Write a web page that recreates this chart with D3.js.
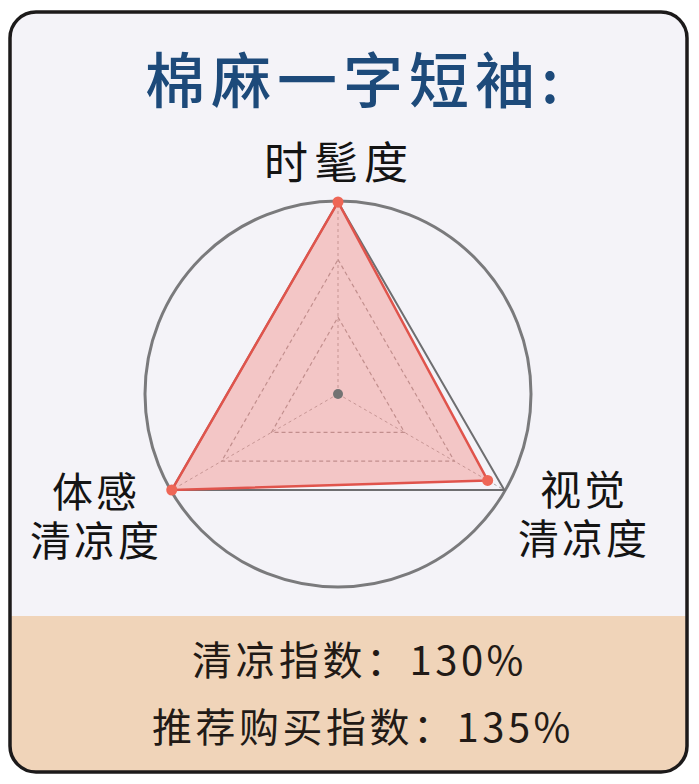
<!DOCTYPE html>
<html>
<head>
<meta charset="utf-8">
<script src="https://cdn.jsdelivr.net/npm/d3@7"></script>
<style>
  html, body { margin: 0; padding: 0; background: #ffffff; }
  svg { display: block; }
  text { font-family: "Noto Sans CJK SC", "Noto Sans", sans-serif; }
</style>
</head>
<body>
<svg id="chart" width="699" height="784"></svg>
<script>
// ---- data ----
const titleText = "棉麻一字短袖:";
const axisLabels = [["时髦度"], ["视觉", "清凉度"], ["体感", "清凉度"]];
const values = [1.0, 0.9, 1.0];
const gridLevels = [0.4, 0.7, 1.0];
const summaryLines = ["清凉指数：130%", "推荐购买指数：135%"];

// ---- layout ----
const svg = d3.select("#chart");
const cx = 338, cy = 394, R = 192;

// card
svg.append("rect")
  .attr("x", 10).attr("y", 12).attr("width", 677).attr("height", 760)
  .attr("rx", 26).attr("ry", 26)
  .attr("fill", "#f4f3f8");

const clip = svg.append("defs").append("clipPath").attr("id", "cardclip");
clip.append("rect")
  .attr("x", 10).attr("y", 12).attr("width", 677).attr("height", 760)
  .attr("rx", 26).attr("ry", 26);
svg.append("rect")
  .attr("clip-path", "url(#cardclip)")
  .attr("x", 10).attr("y", 616).attr("width", 677).attr("height", 160)
  .attr("fill", "#f0d4b9");

svg.append("rect")
  .attr("x", 10).attr("y", 12).attr("width", 677).attr("height", 760)
  .attr("rx", 26).attr("ry", 26)
  .attr("fill", "none").attr("stroke", "#1c1a1a").attr("stroke-width", 3.5);

// title
svg.append("text")
  .attr("x", 145).attr("y", 103)
  .attr("font-size", 60)
  .attr("font-weight", 500)
  .attr("letter-spacing", 6)
  .attr("fill", "#1d4a7a")
  .text(titleText);

// radar scales
const n = axisLabels.length;
const angle = d3.scaleLinear().domain([0, n]).range([0, 2 * Math.PI]);
const r = d3.scaleLinear().domain([0, 1]).range([0, R]);
const pt = (i, v) => [r(v) * Math.sin(angle(i)), -r(v) * Math.cos(angle(i))];

const g = svg.append("g").attr("transform", `translate(${cx},${cy})`);

g.append("circle").attr("r", R + 1)
  .attr("fill", "none").attr("stroke", "#7a7a7c").attr("stroke-width", 3);

const lineClosed = d3.line().curve(d3.curveLinearClosed);

d3.range(n).forEach(i => {
  g.append("line")
    .attr("x1", 0).attr("y1", 0)
    .attr("x2", pt(i, 1)[0]).attr("y2", pt(i, 1)[1])
    .attr("stroke", "#b0a8aa").attr("stroke-width", 1)
    .attr("stroke-dasharray", "3,3");
});

gridLevels.forEach(lv => {
  const outer = lv === 1.0;
  g.append("path")
    .attr("d", lineClosed(d3.range(n).map(i => pt(i, lv))))
    .attr("fill", "none")
    .attr("stroke", outer ? "#6e6e70" : "#a89c9e")
    .attr("stroke-width", outer ? 2 : 1.2)
    .attr("stroke-dasharray", outer ? null : "4,3");
});

const dataPts = values.map((v, i) => pt(i, v));
g.append("path")
  .attr("d", lineClosed(dataPts))
  .attr("fill", "rgba(242, 120, 110, 0.36)")
  .attr("stroke", "#e0544c").attr("stroke-width", 2.5)
  .attr("stroke-linejoin", "round");

g.selectAll("circle.pt").data(dataPts).enter().append("circle")
  .attr("class", "pt")
  .attr("cx", d => d[0]).attr("cy", d => d[1]).attr("r", 5.5)
  .attr("fill", "#ee6656");

g.append("circle").attr("r", 5).attr("fill", "#737373");

// axis labels (multi-line labels as tspans in one text)
const labelPos = [
  {fs: 44, ls: 6, lines: [{x: 264, y: 179}]},
  {fs: 41, ls: 3, lines: [{x: 540, y: 505}, {x: 518, y: 554}]},
  {fs: 41, ls: 3, lines: [{x: 52, y: 507}, {x: 30, y: 556}]}
];
axisLabels.forEach((lines, i) => {
  const p = labelPos[i];
  const t = svg.append("text")
    .attr("font-size", p.fs).attr("letter-spacing", p.ls)
    .attr("fill", "#141414");
  lines.forEach((s, j) => {
    t.append("tspan")
      .attr("x", p.lines[j].x).attr("y", p.lines[j].y)
      .text(s);
  });
});

// summary lines
const sumPos = [{x: 192, y: 675}, {x: 152, y: 742}];
summaryLines.forEach((s, i) => {
  svg.append("text")
    .attr("x", sumPos[i].x).attr("y", sumPos[i].y)
    .attr("font-size", 40).attr("letter-spacing", 3.5)
    .attr("fill", "#221a16")
    .text(s);
});
</script>
</body>
</html>
